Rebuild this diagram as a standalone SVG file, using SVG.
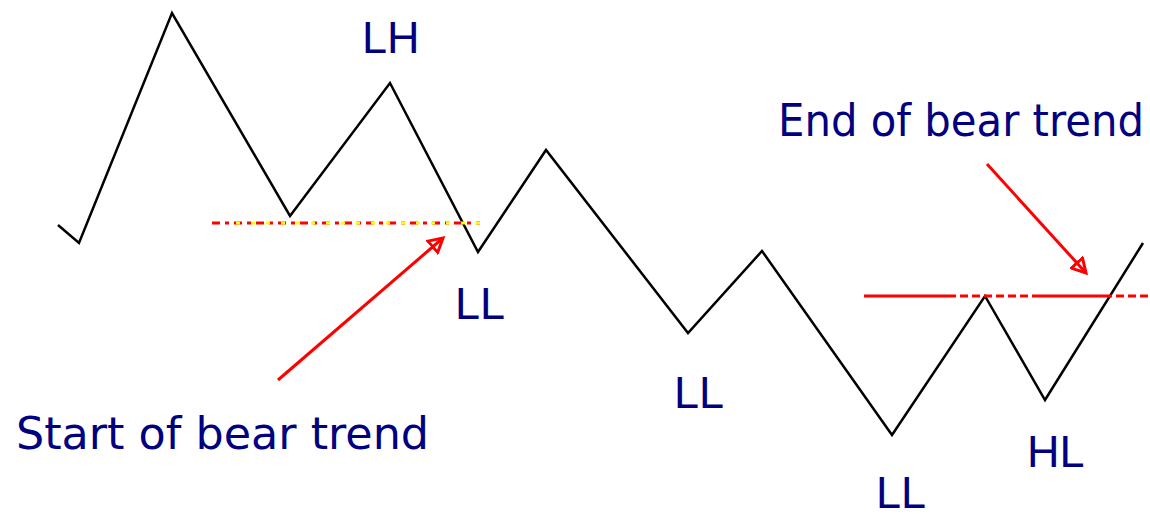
<svg xmlns="http://www.w3.org/2000/svg" width="1150" height="514" viewBox="0 0 1150 514">
<style>
.zig{fill:none;stroke:#000;stroke-width:2.5;stroke-linejoin:miter}
.lbl{font-family:"Liberation Sans",Arial,sans-serif;font-size:45px;fill:#000080}
.note{font-family:"DejaVu Sans","Liberation Sans",sans-serif;font-size:44px;fill:#000080}
.red{stroke:#ff0000;stroke-width:3;fill:none}
.arr{stroke:#ff0000;stroke-width:3;fill:none}
</style>
<defs>
<marker id="ah" viewBox="0 0 12 12" refX="10" refY="6" markerWidth="6" markerHeight="6" orient="auto" markerUnits="strokeWidth">
<path d="M1,1 L10,6 L1,11 Z" fill="none" stroke="#ff0000" stroke-width="2"/>
</marker>
</defs>
<rect width="1150" height="514" fill="#fff"/>
<g id="price">
<polyline class="zig" points="58,225 79,243 172,13 290,216 390,83 478,252 546,150 688,333 762,251 892,435 985,296 1045,400 1143,243"/>
</g>
<g id="connectors">
<line class="red" x1="212" y1="223" x2="480" y2="223" stroke-dasharray="8,5,4,5"/>
<line x1="236" y1="223" x2="480" y2="223" stroke="#ffff00" stroke-width="3" stroke-dasharray="4,11"/>
<line class="red" x1="864" y1="296" x2="1150" y2="296" stroke-dasharray="92,4,8,4,8,4,8,4,8,4,8,4,8,4,80,4,8,4,8,4,8,4"/>
<line class="arr" x1="278" y1="380" x2="443" y2="238" marker-end="url(#ah)"/>
<line class="arr" x1="987" y1="164" x2="1086" y2="273" marker-end="url(#ah)"/>
</g>
<g id="labels">
<text class="lbl" x="362" y="53">LH</text>
<text class="lbl" x="455" y="319">LL</text>
<text class="lbl" x="674" y="408">LL</text>
<text class="lbl" x="876" y="508">LL</text>
<text class="lbl" x="1027" y="467">HL</text>
<text class="note" x="16" y="449" textLength="413" lengthAdjust="spacingAndGlyphs">Start of bear trend</text>
<text class="note" x="778" y="136" textLength="366" lengthAdjust="spacingAndGlyphs">End of bear trend</text>
</g>
</svg>
